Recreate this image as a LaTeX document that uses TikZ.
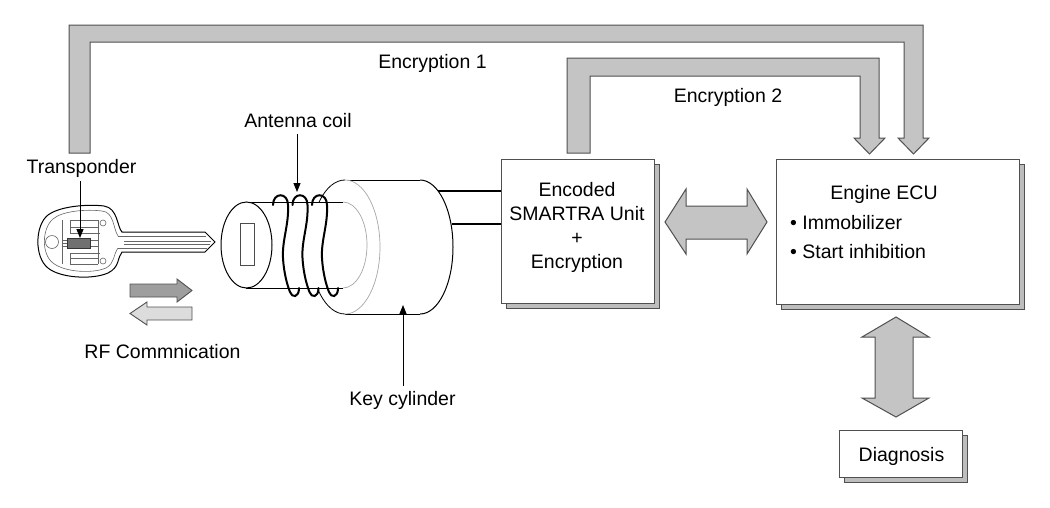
\documentclass[tikz,border=0pt]{standalone}
\usepackage{fontspec}
\setmainfont{Liberation Sans}
\usetikzlibrary{arrows.meta,shadows}
\definecolor{bandgray}{HTML}{C4C4C4}
\definecolor{edgegray}{HTML}{505050}
\definecolor{shadowgray}{HTML}{BDBDBD}
\definecolor{rfdark}{HTML}{9E9E9E}
\definecolor{rflight}{HTML}{DCDCDC}
\definecolor{chipgray}{HTML}{707070}
\begin{document}
\begin{tikzpicture}[x=1pt,y=-1pt,
  txt/.style={font=\fontsize{19.5}{24}\selectfont, inner sep=1pt},
  band/.style={fill=bandgray, draw=edgegray, line width=1pt, line join=miter},
  boxst/.style={draw=edgegray, fill=white, line width=1pt,
     copy shadow={shadow xshift=5.5pt, shadow yshift=-5.5pt, fill=shadowgray, draw=edgegray, line width=1pt}},
  lbl/.style={draw=black, line width=0.9pt, -{Triangle[length=9pt,width=7pt]}},
  cyl/.style={draw=black, line width=1pt},
  hid/.style={draw=gray!70, line width=0.7pt},
  keythin/.style={draw=black!60, line width=0.6pt},
  coilst/.style={draw=black, line width=2pt, line cap=round},
  rfarrow/.style={draw=edgegray, line width=0.9pt, line join=miter}
]
\useasboundingbox (0,0) rectangle (1050,507);
\fill[white] (0,0) rectangle (1050,507);

% ---------- encryption bands ----------
\draw[band] (69,153) -- (69,25) -- (923,25) -- (923,138) -- (929,138) -- (913.5,154)
  -- (898,138) -- (904,138) -- (904,42) -- (90,42) -- (90,153) -- cycle;
\draw[band] (567,153) -- (567,58) -- (879,58) -- (879,138) -- (885,138) -- (869.5,154)
  -- (854,138) -- (860,138) -- (860,76) -- (590,76) -- (590,153) -- cycle;
\node[txt, anchor=base] (enc1) at (432.5,68) {Encryption 1};
\node[txt, anchor=base] (enc2) at (728,102) {Encryption 2};

% ---------- boxes ----------
\node[boxst, minimum width=153pt, minimum height=144pt] (smartra) at (577.5,231) {};
\node[txt, align=center] (smartratxt) at (577,227) {Encoded\\SMARTRA Unit\\+\\Encryption};

\node[boxst, minimum width=243pt, minimum height=145pt] (ecu) at (897.5,231.5) {};
\node[txt, anchor=base] (ecutitle) at (884,199) {Engine ECU};
\node[txt, anchor=base west] (imm) at (789,229) {\textbullet\ Immobilizer};
\node[txt, anchor=base west] (sti) at (789,258) {\textbullet\ Start inhibition};

\node[boxst, minimum width=123pt, minimum height=47pt] (diag) at (900.5,453.5) {};
\node[txt, anchor=base] (diagtxt) at (901.5,461) {Diagnosis};

% ---------- double arrows ----------
\draw[band] (665,222) -- (686,189) -- (686,206) -- (747,206) -- (747,189) -- (767,222)
  -- (747,254) -- (747,239) -- (686,239) -- (686,254) -- cycle;
\draw[band] (896,317) -- (929,337) -- (913,337) -- (913,398) -- (929,398) -- (896,417)
  -- (862,398) -- (875,398) -- (875,337) -- (862,337) -- cycle;

% ---------- wires ----------
\coordinate (w1) at (437.5,191);
\coordinate (w2) at (451.5,224);
\draw[cyl, line width=1.2pt] (w1) -- (w1 -| smartra.west);
\draw[cyl, line width=1.2pt] (w2) -- (w2 -| smartra.west);

% ---------- key cylinder (big) ----------
\fill[white] (345,180) rectangle (420,314);
\fill[white] (420,247) ellipse [x radius=33, y radius=67];
\draw[cyl] (345,180) -- (420,180);
\draw[cyl] (345,314) -- (420,314);
\begin{scope}
  \clip (420,170) rectangle (470,325);
  \draw[cyl] (420,247) ellipse [x radius=33, y radius=67];
\end{scope}
\fill[white] (345,247) ellipse [x radius=35, y radius=67];
\begin{scope}
  \clip (300,170) rectangle (345,325);
  \draw[cyl, line width=0.8pt] (345,247) ellipse [x radius=35, y radius=67];
\end{scope}
\begin{scope}
  \clip (345,170) rectangle (390,325);
  \draw[hid] (345,247) ellipse [x radius=35, y radius=67];
\end{scope}

% ---------- small cylinder ----------
\fill[white] (246,202) rectangle (343,288);
\begin{scope}
  \clip (343,195) rectangle (375,295);
  \draw[hid] (343,245) ellipse [x radius=24, y radius=43];
\end{scope}
\draw[cyl] (246,202) -- (343,202);
\draw[cyl] (246,288) -- (343,288);
\draw[cyl, fill=white] (246.5,245) ellipse [x radius=25.5, y radius=43];
\draw[draw=black!70, line width=0.8pt] (240,223) rectangle (254,265);

% ---------- coil ----------
\foreach \d in {0,19.5,39}{
  \draw[coilst] ({273+\d},205) .. controls ({273+\d},192) and ({288+\d},192) .. ({288+\d},205)
    .. controls ({289+\d},225) and ({282+\d},240) .. ({283+\d},258)
    .. controls ({284+\d},275) and ({288+\d},287) .. ({290+\d},292)
    .. controls ({292+\d},298) and ({299+\d},298) .. ({299+\d},288);
}

% ---------- key ----------
\draw[cyl, fill=white] (122,232) -- (205,232) -- (215,242) -- (205,252) -- (122,252)
  .. controls (117,258) and (120,267) .. (108,273)
  .. controls (92,280) and (60,278) .. (48,268)
  .. controls (34,257) and (35,225) .. (48,215)
  .. controls (60,206) and (88,204) .. (104,206)
  .. controls (118,208) and (117,227) .. (122,232) -- cycle;
\draw[keythin] (118,236) .. controls (113,228) and (114,212) .. (102,211)
  .. controls (86,209) and (62,211) .. (53,219)
  .. controls (42,228) and (41,254) .. (53,263)
  .. controls (64,272) and (92,274) .. (106,268)
  .. controls (115,263) and (113,255) .. (118,248);
\draw[keythin] (118,236) -- (206,236);
\draw[keythin] (124,241.5) -- (211,241.5);
\draw[keythin] (124,244.5) -- (210,244.5);
\draw[keythin] (118,248) -- (207,248);
\draw[keythin] (52,242) circle [radius=6.5];
\draw[keythin] (103,223) circle [radius=3];
\draw[keythin] (103,261) circle [radius=3];
\draw[keythin] (62,220) -- (62,264);
\draw[keythin] (70,220) -- (98,220) (70,227) -- (98,227) (70,233) -- (100,233)
  (70,253) -- (100,253) (70,258) -- (98,258) (70,264) -- (98,264)
  (70,220) -- (70,233) (70,253) -- (70,264) (98,220) -- (98,264);
\draw[keythin] (62,240) -- (67,240) (62,243) -- (67,243) (62,246) -- (67,246)
  (90,240) -- (98,240) (90,246) -- (98,246);
\draw[draw=black!80, fill=chipgray, line width=0.6pt] (67,238) rectangle (90,248);

% ---------- RF arrows ----------
\draw[rfarrow, fill=rfdark] (130,284) -- (177,284) -- (177,279) -- (192,290.5) -- (177,302)
  -- (177,297) -- (130,297) -- cycle;
\draw[rfarrow, fill=rflight] (192,307) -- (147,307) -- (147,302) -- (130,313.5) -- (147,325)
  -- (147,320) -- (192,320) -- cycle;
\node[txt, anchor=base] (rf) at (162.5,358) {RF Commnication};

% ---------- labels with pointers ----------
\node[txt, anchor=base] (tlabel) at (81.5,173) {Transponder};
\coordinate (chiptop) at (80,238);
\draw[lbl] ([yshift=-3pt]tlabel.south -| chiptop) -- (chiptop);

\node[txt, anchor=base] (antlabel) at (298,127) {Antenna coil};
\coordinate (coiltop) at (297,192);
\draw[lbl] ([yshift=-6pt]antlabel.south -| coiltop) -- (coiltop);

\node[txt, anchor=base] (kclabel) at (402.5,405) {Key cylinder};
\coordinate (kcbot) at (403,305);
\draw[lbl] ([yshift=4pt]kclabel.north -| kcbot) -- (kcbot);
\end{tikzpicture}
\end{document}
